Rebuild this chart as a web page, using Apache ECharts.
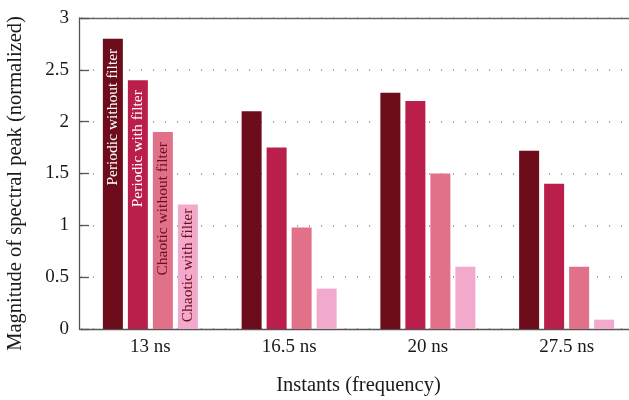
<!DOCTYPE html>
<html>
<head>
<meta charset="utf-8">
<script src="https://cdn.jsdelivr.net/npm/echarts@6/dist/echarts.min.js"></script>
<style>
  html, body { margin: 0; padding: 0; background: #fff; }
  #chart { width: 629px; height: 400px; }
</style>
</head>
<body>
<div id="chart"></div>
<script>
// Instants along the x axis
const categories = ['13 ns', '16.5 ns', '20 ns', '27.5 ns'];

// Normalized spectral peak magnitude per configuration
const periodicWithoutFilter = [2.8, 2.1, 2.28, 1.72];
const periodicWithFilter = [2.4, 1.75, 2.2, 1.4];
const chaoticWithoutFilter = [1.9, 0.98, 1.5, 0.6];
const chaoticWithFilter = [1.2, 0.39, 0.6, 0.09];

const seriesNames = ['Periodic without filter', 'Periodic with filter', 'Chaotic without filter', 'Chaotic with filter'];
const seriesValues = [periodicWithoutFilter, periodicWithFilter, chaoticWithoutFilter, chaoticWithFilter];
const seriesColors = ['#6d0d1b', '#b91f4a', '#e07189', '#f1aacb'];
const labelColors = ['#ffffff', '#ffffff', '#6d0d1b', '#6d0d1b'];
const labelDistances = [10, 10, 10, 4];

const serif = '"Liberation Serif", "DejaVu Serif", serif';

const chart = echarts.init(document.getElementById('chart'), null, { renderer: 'canvas' });

const series = seriesValues.map((vals, i) => ({
  name: seriesNames[i],
  type: 'bar',
  barWidth: 20,
  barGap: '25%',
  itemStyle: { color: seriesColors[i] },
  // the series name is written inside the first bar of each series
  data: vals.map((v, j) => j === 0 ? {
    value: v,
    label: {
      show: true,
      formatter: seriesNames[i],
      position: 'insideTop',
      distance: labelDistances[i],
      rotate: 90,
      align: 'right',
      verticalAlign: 'middle',
      color: labelColors[i],
      fontFamily: serif,
      fontSize: 15.5
    }
  } : v)
}));

chart.setOption({
  animation: false,
  backgroundColor: '#ffffff',
  grid: { left: 81, top: 18, width: 555, height: 311, containLabel: false, outerBoundsMode: 'none' },
  xAxis: [
    {
      type: 'category',
      data: categories,
      position: 'bottom',
      axisLine: { show: true, lineStyle: { color: '#555', width: 1.3 } },
      axisTick: { show: false },
      axisLabel: { color: '#1a1a1a', fontFamily: serif, fontSize: 19, margin: 9 },
      name: 'Instants (frequency)',
      nameLocation: 'middle',
      nameGap: 46,
      nameTextStyle: { color: '#1a1a1a', fontFamily: serif, fontSize: 20.5 }
    },
    {
      // frame line along the top of the plot
      type: 'category',
      data: categories,
      position: 'top',
      axisLine: { show: true, lineStyle: { color: '#666', width: 1.3 } },
      axisTick: { show: false },
      axisLabel: { show: false },
      splitLine: { show: false }
    }
  ],
  yAxis: {
    type: 'value',
    min: 0,
    max: 3,
    interval: 0.5,
    offset: 2,
    axisLine: { show: true, lineStyle: { color: '#555', width: 1.3 } },
    axisTick: { show: true, inside: true, length: 10, lineStyle: { color: '#555', width: 1.3 } },
    axisLabel: { color: '#1a1a1a', fontFamily: serif, fontSize: 19, margin: 10 },
    splitLine: { show: true, lineStyle: { color: '#8a8a8a', width: 1.5, type: [1, 11] } },
    name: 'Magnitude of spectral peak (normalized)',
    nameLocation: 'middle',
    nameGap: 53,
    nameTextStyle: { color: '#1a1a1a', fontFamily: serif, fontSize: 20.5, padding: [0, 20, 0, 0] }
  },
  series: series
});
</script>
</body>
</html>
